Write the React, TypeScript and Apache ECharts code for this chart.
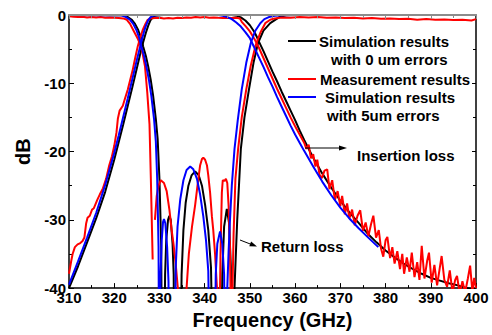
import React, { useEffect, useRef } from "react";
import * as echarts from "echarts";

// Frequency axis (GHz) and dB axis
const xTicks = { min: 310, max: 400, step: 10 };
const yTicks = { min: -40, max: 0, step: 10 };

// Simulation, 0 um errors (black)
const s21Sim0 = [
  [310, -40], [312, -36.8], [314, -33.3], [316, -29.8], [318, -25.9], [320, -21.2], [321, -18.6],
  [322, -16], [323, -13.3], [324, -10.6], [325, -7.8], [326, -5], [326.4, -4], [327, -2.6],
  [327.5, -1.6], [328, -0.8], [328.5, -0.35], [329, -0.12], [330, -0.02], [331, 0], [346, 0],
  [347, -0.1], [348, -0.35], [349, -0.8], [350, -1.5], [351, -2.5], [351.6, -3.3], [352, -3.9],
  [353, -5.3], [354, -6.8], [355, -8.3], [356, -9.7], [357, -11.2], [358, -12.6], [359, -14],
  [360, -15.4], [361, -16.9], [362, -18.3], [364, -20.9], [366, -23.2], [368, -25.3], [370, -27.2],
  [372, -28.9], [374, -30.4], [376, -32], [378, -33.3], [380, -34.5], [382, -35.5], [384, -36.4],
  [386, -37.2], [388, -37.9], [390, -38.5], [392, -38.9], [394, -39.3], [396, -39.6], [398, -40],
  [400, -40.3],
];
const s11Sim0 = [
  [310, 0], [320, -0.02], [322, -0.05], [323, -0.3], [323.9, -0.7], [324.6, -1.3], [325.3, -2.2],
  [325.9, -3.3], [326.4, -4.6], [327, -6], [327.5, -7.5], [328.1, -9.6], [328.6, -11.8],
  [329.2, -15.2], [329.6, -18.1], [330, -24], [330.4, -34], [330.55, -55],
  [331.0, -55], [331.25, -38], [331.5, -33], [331.9, -30], [332.2, -29.4], [332.5, -30],
  [332.9, -33.5], [333.15, -38], [333.3, -55],
  [334.6, -55], [334.9, -38], [335.3, -31.5], [335.8, -27.5], [336.4, -25], [337.1, -23.5],
  [337.9, -22.9], [338.7, -23.5], [339.4, -25], [340.1, -27.8], [340.8, -31.5], [341.4, -37],
  [341.9, -55],
  [343.6, -55], [343.9, -38], [344.3, -31], [344.9, -28.4], [345.4, -30.5], [345.8, -37],
  [346.0, -55], [346.4, -55], [346.6, -40], [347.2, -30], [348.0, -19.6], [348.8, -15],
  [349.8, -10.9], [350.8, -7], [351.8, -4.1], [353, -2.3], [354.5, -1.2], [356.5, -0.3],
  [358, -0.05], [360, 0], [400, 0],
];

// Measurement (red)
const s21Meas = [
  [310, -37.9], [310.5, -36], [310.8, -35], [311.3, -34], [311.9, -33.6], [312.5, -33.4],
  [313, -33.1], [313.4, -32.6], [313.8, -30.5], [314.1, -29.7], [314.6, -29.4], [315.1, -28.5],
  [315.5, -28.3], [316.3, -27], [316.8, -26.3], [317.5, -25.4], [318.2, -24], [318.9, -22],
  [319.5, -20.7], [320, -19.2], [320.5, -17.2], [320.8, -15.2], [321.2, -14], [321.9, -13.3],
  [322.4, -12.2], [323, -10.9], [323.5, -9.6], [324.1, -8], [324.6, -6.4], [325.2, -4.6],
  [325.8, -3.2], [326.3, -2.2], [326.9, -1.3], [327.4, -0.7], [328, -0.5], [329, -0.45],
  [330, -0.4], [331, -0.5], [332, -0.45], [333, -0.5], [334, -0.4], [335, -0.45], [336, -0.35],
  [337, -0.4], [338, -0.3], [339, -0.35], [340, -0.3], [341, -0.4], [342, -0.35], [343, -0.4],
  [344, -0.45], [345, -0.4], [346, -0.45], [347, -0.4], [347.8, -0.5], [348.2, -1.0],
  [349, -1.6], [350, -2.4], [351, -3.5], [352, -4.8], [353, -6.3], [354, -7.8], [355, -9.3],
  [356, -10.8], [357, -12.2], [358, -13.6], [359, -15], [360, -16.3], [361, -17.5],
  [362, -18.7], [362.5, -19.6], [363, -19.0], [363.5, -21.0], [364, -20.4], [364.5, -22.2],
  [364.9, -21.2], [365.4, -23.4], [365.9, -23.9], [366.5, -22.8], [367.1, -22.6], [367.6, -25.5],
  [368.2, -24.2], [368.8, -27.1], [369.4, -25.8], [370.0, -28.0], [370.4, -26.5], [371.0, -29.2],
  [371.5, -27.6], [372.0, -29.8], [372.6, -28.5], [373.2, -30.8], [373.8, -29.4], [374.4, -28.6],
  [375.0, -31.6], [375.6, -30.4], [376.2, -32.4], [376.8, -30.6], [377.3, -29.4], [377.9, -32.6],
  [378.5, -31.5], [379.0, -34.2], [379.5, -35.4], [380.0, -33.0], [380.4, -32.5], [381.0, -35.6],
  [381.5, -34.0], [382.0, -36.4], [382.6, -34.6], [383.2, -37.2], [383.7, -35.0], [384.1, -37.9],
  [384.7, -35.5], [385.3, -37.6], [385.8, -34.8], [386.4, -38.4], [387.0, -36.2], [387.5, -38.8],
  [388.0, -33.8], [388.6, -38.6], [389.2, -36.0], [389.6, -34.8], [390.2, -39.2], [390.8, -36.6],
  [391.4, -39.6], [392.0, -37.0], [392.4, -35.3], [393.0, -38.8], [393.6, -39.8], [394.2, -37.4],
  [394.8, -40.6], [395.4, -38.8], [395.8, -38.2], [396.4, -40.8], [397.0, -39.0], [397.6, -40.6],
  [398.2, -38.6], [398.7, -36.7], [399.2, -40.5], [399.6, -38.5], [400, -40],
];
const s11Meas = [
  [310, -0.2], [311, -0.25], [312, -0.3], [313, -0.25], [314, -0.35], [315, -0.3], [316, -0.35],
  [317, -0.3], [318, -0.4], [319, -0.35], [320, -0.4], [321, -0.45], [322, -0.5], [322.8, -0.7],
  [323.5, -1.3], [324.2, -2.2], [325.3, -3.6], [326.1, -5], [326.8, -7.5], [327.3, -11.3],
  [327.8, -16], [328.1, -24], [328.5, -35.8], [328.7, null],
  [329.0, -30], [329.4, -26.5], [329.8, -25], [330.3, -24.2], [331.0, -24.6], [331.6, -25.8],
  [332.2, -28.5], [332.7, -31.5], [333.1, -33.5], [333.6, -36.5], [334.2, -41], [334.6, -50],
  [335.6, -50], [336.0, -40], [336.5, -35], [337.2, -31], [337.9, -27.8], [338.5, -24.5],
  [339.0, -22], [339.4, -21.1], [339.7, -20.9], [340.1, -21.2], [340.5, -22], [340.8, -23.5],
  [341.2, -26], [341.6, -29.5], [341.9, -31.5], [342.3, -35], [342.8, -41], [343.0, -50],
  [343.2, -50], [343.5, -35], [343.8, -26], [344.0, -24.2], [344.4, -24.3], [344.7, -24],
  [345.0, -24.6], [345.3, -28], [345.6, -34], [345.8, -45], [346.0, -50], [346.1, -42],
  [346.4, -32], [346.8, -24], [347.4, -19.6], [348.2, -15], [349.2, -10.9], [350.2, -7.4],
  [351.2, -4.6], [352.3, -2.6], [353.4, -1.2], [354.5, -0.7], [355.5, -0.5], [357, -0.35],
  [359, -0.4], [361, -0.3], [363, -0.35], [365, -0.3], [367, -0.4], [369, -0.35], [371, -0.45],
  [373, -0.4], [375, -0.5], [377, -0.45], [379, -0.55], [381, -0.5], [383, -0.6], [385, -0.55],
  [387, -0.7], [389, -0.6], [391, -0.7], [393, -0.65], [395, -0.75], [397, -0.7], [399, -0.8],
  [400, -0.6],
];

// Simulation, 5 um errors (blue)
const s21Sim5 = [
  [310, -39.5], [312, -36.1], [314, -32.6], [316, -29], [318, -24.9], [320, -20.2], [321, -17.6],
  [322, -14.9], [323, -12.2], [324, -9.4], [325, -6.6], [326, -3.9], [326.6, -2.4], [327, -1.6],
  [327.5, -0.8], [328, -0.35], [328.5, -0.12], [329.5, -0.02], [330.5, 0], [343, 0],
  [344, -0.1], [345, -0.3], [346, -0.6], [347, -1.1], [348, -1.7], [349, -2.5], [350, -3.4],
  [351, -4.8], [352, -6.2], [353, -7.6], [354, -9.1], [355, -10.5], [356, -12], [357, -13.4],
  [358, -14.8], [359, -16.2], [360, -17.5], [361, -18.7], [362, -19.9], [364, -22.2],
  [366, -24.4], [368, -26.4], [370, -28.2], [372, -29.8], [374, -31.2], [376, -32.5],
  [378.4, -34],
];
const s11Sim5 = [
  [310, 0], [319, -0.02], [321.6, -0.05], [322.6, -0.3], [323.5, -0.7], [324.2, -1.3],
  [324.9, -2.2], [325.5, -3.3], [326.0, -4.6], [326.6, -6], [327.1, -7.5], [327.7, -9.6],
  [328.2, -11.8], [328.8, -15.2], [329.2, -18.5], [329.5, -24], [329.8, -34], [329.95, -55],
  [330.05, -55], [330.25, -38], [330.5, -33], [330.8, -30.3], [331.0, -29.9], [331.3, -30.5],
  [331.7, -34], [332.0, -39], [332.15, -55],
  [333.3, -55], [333.6, -37], [334.0, -31], [334.6, -27], [335.3, -24.2], [336.0, -22.7],
  [336.8, -22.2], [337.5, -22.6], [338.3, -24], [339.0, -26.3], [339.7, -29.5], [340.3, -33],
  [340.8, -37.5], [341.2, -55],
  [342.2, -55], [342.45, -38], [342.8, -33.5], [343.4, -31.7], [343.9, -33.5], [344.3, -38],
  [344.5, -55], [344.8, -55], [345.0, -40], [345.3, -34.5], [345.6, -30], [346.0, -25],
  [346.6, -19.6], [347.3, -15.5], [348.2, -10.9], [349.2, -7], [350.2, -4.1], [351.2, -2.3],
  [352.3, -1.2], [353.2, -0.6], [354.2, -0.3], [355.5, -0.1], [357, -0.03], [360, 0], [400, 0],
];

const legendLines = [
  "Simulation results",
  "with 0 um errors",
  "Measurement results",
  "Simulation results",
  "with 5um errors",
];
const annotations = ["Insertion loss", "Return loss"];

const FONT = "'Liberation Sans', Arial, Helvetica, sans-serif";

export default function App() {
  const ref = useRef<HTMLDivElement>(null);

  useEffect(() => {
    if (!ref.current) return;
    const chart = echarts.init(ref.current, undefined, { renderer: "svg" });

    const labelStyle = {
      fontFamily: FONT,
      fontWeight: "bold",
      fontSize: 15,
      color: "#000",
    };
    const lineSeries = (data: any[], color: string, z: number) => ({
      type: "line",
      data,
      showSymbol: false,
      symbol: "none",
      clip: true,
      z,
      lineStyle: { color, width: 2 },
      itemStyle: { color },
    });
    const txt = (text: string, x: number, y: number) => ({
      type: "text",
      x,
      y,
      style: {
        text,
        fill: "#000",
        font: `bold 15px ${FONT}`,
        textVerticalAlign: "middle",
        verticalAlign: "middle",
      },
      z: 100,
    });
    const seg = (x1: number, y1: number, x2: number, y2: number, color: string, w: number) => ({
      type: "line",
      shape: { x1, y1, x2, y2 },
      style: { stroke: color, lineWidth: w },
      z: 100,
    });

    chart.setOption({
      animation: false,
      grid: { left: 69, right: 16, top: 15, bottom: 44, containLabel: false },
      xAxis: [
        {
          type: "value",
          min: xTicks.min,
          max: xTicks.max,
          interval: xTicks.step,
          position: "bottom",
          name: "Frequency (GHz)",
          nameLocation: "middle",
          nameGap: 20,
          nameTextStyle: { fontFamily: FONT, fontWeight: "bold", fontSize: 20, color: "#000" },
          axisLine: { show: true, onZero: false, lineStyle: { color: "#000", width: 1.5 } },
          axisTick: { inside: true, length: 5, lineStyle: { color: "#000" } },
          minorTick: { show: true, splitNumber: 2, length: 3, lineStyle: { color: "#000" } },
          splitLine: { show: false },
          axisLabel: { ...labelStyle, margin: 2 },
        },
        {
          type: "value",
          min: xTicks.min,
          max: xTicks.max,
          interval: xTicks.step,
          position: "top",
          z: 10,
          axisLine: { show: true, onZero: false, lineStyle: { color: "#8c8c8c", width: 2 } },
          axisTick: { inside: true, length: 4, lineStyle: { color: "#8c8c8c" } },
          minorTick: { show: true, splitNumber: 2, length: 3, lineStyle: { color: "#8c8c8c" } },
          splitLine: { show: false },
          axisLabel: { show: false },
        },
      ],
      yAxis: [
        {
          type: "value",
          min: yTicks.min,
          max: yTicks.max,
          interval: yTicks.step,
          position: "left",
          name: "dB",
          nameLocation: "middle",
          nameGap: 33,
          nameRotate: 90,
          nameTextStyle: { fontFamily: FONT, fontWeight: "bold", fontSize: 20, color: "#000" },
          axisLine: { show: true, onZero: false, lineStyle: { color: "#000", width: 1.5 } },
          axisTick: { inside: true, length: 5, lineStyle: { color: "#000" } },
          minorTick: { show: true, splitNumber: 2, length: 3, lineStyle: { color: "#000" } },
          splitLine: { show: false },
          axisLabel: { ...labelStyle, margin: 3 },
        },
        {
          type: "value",
          min: yTicks.min,
          max: yTicks.max,
          interval: yTicks.step,
          position: "right",
          axisLine: { show: true, onZero: false, lineStyle: { color: "#000", width: 1.5 } },
          axisTick: { inside: true, length: 4, lineStyle: { color: "#000" } },
          minorTick: { show: true, splitNumber: 2, length: 3, lineStyle: { color: "#000" } },
          splitLine: { show: false },
          axisLabel: { show: false },
        },
      ],
      series: [
        lineSeries(s21Sim0, "#000000", 2),
        lineSeries(s11Sim0, "#000000", 2),
        lineSeries(s21Meas, "#ff0000", 3),
        lineSeries(s11Meas, "#ff0000", 3),
        lineSeries(s21Sim5, "#0000ff", 4),
        lineSeries(s11Sim5, "#0000ff", 4),
      ],
      graphic: [
        seg(288, 41, 316, 41, "#000000", 2),
        txt(legendLines[0], 319, 41),
        txt(legendLines[1], 331, 59),
        seg(288, 79, 316, 79, "#ff0000", 2),
        txt(legendLines[2], 320, 79),
        seg(288, 97, 316, 97, "#0000ff", 2),
        txt(legendLines[3], 325, 97),
        txt(legendLines[4], 327, 115),
        // Insertion loss annotation
        seg(305, 148, 341, 148, "#000000", 1),
        {
          type: "polygon",
          shape: { points: [[347, 148], [339, 145.5], [339, 150.5]] },
          style: { fill: "#000" },
          z: 100,
        },
        txt(annotations[0], 357, 155),
        // Return loss annotation
        seg(240, 240, 251, 244.3, "#000000", 1),
        {
          type: "polygon",
          shape: { points: [[257, 246.5], [249.3, 246.2], [251.1, 241.5]] },
          style: { fill: "#000" },
          z: 100,
        },
        txt(annotations[1], 261, 246),
      ],
    });

    return () => chart.dispose();
  }, []);

  return (
    <div
      ref={ref}
      style={{ position: "absolute", left: 0, top: 0, width: 492, height: 335 }}
    />
  );
}
